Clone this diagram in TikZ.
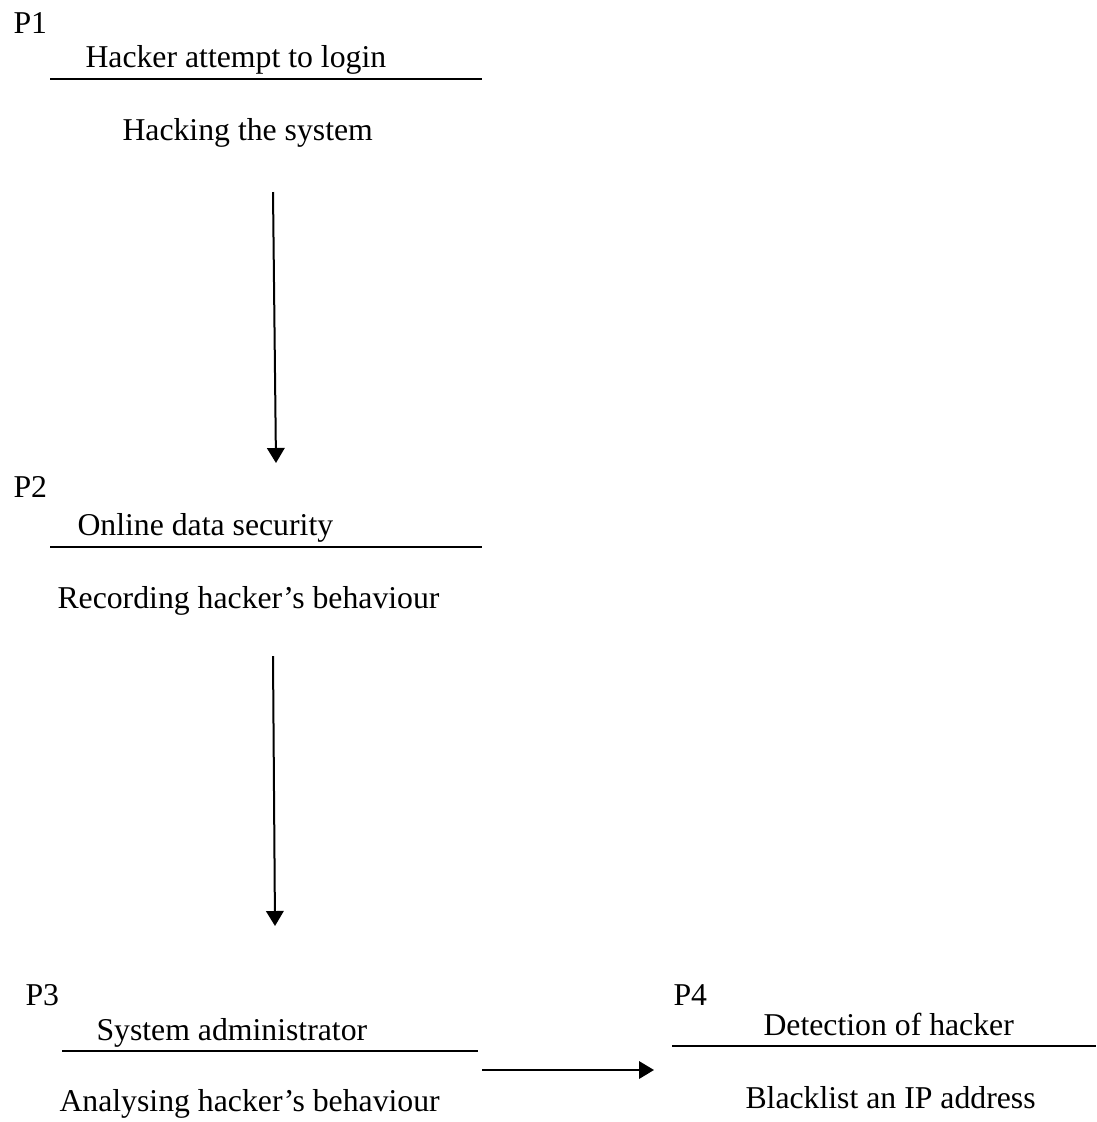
\documentclass[tikz,border=0pt]{standalone}
\usepackage{fontspec}
\setmainfont{Liberation Serif}
\usetikzlibrary{arrows.meta}

\begin{document}
\begin{tikzpicture}[x=0.4pt,y=-0.4pt,
    txt/.style={anchor=base west,inner sep=0pt,font=\fontsize{12.7}{15}\selectfont},
    rule/.style={line width=1.15pt},
    flow/.style={line width=0.8pt,-{Triangle[width=7pt,length=6pt]}}]
    \useasboundingbox (0,0) rectangle (1096,1122);

    % P1
    \node[txt] (p1) at (13,33) {P1};
    \node[txt] (t1) at (85,67) {Hacker attempt to login};
    \draw[rule] (50,79) -- (482,79);
    \node[txt] (d1) at (122,140) {Hacking the system};

    % P2
    \node[txt] (p2) at (13,497) {P2};
    \node[txt] (t2) at (77,535) {Online data security};
    \draw[rule] (50,547) -- (482,547);
    \node[txt] (d2) at (57,608) {Recording hacker’s behaviour};

    % P3
    \node[txt] (p3) at (25,1005) {P3};
    \node[txt] (t3) at (96,1040) {System administrator};
    \draw[rule] (62,1051) -- (478,1051);
    \node[txt] (d3) at (59,1111) {Analysing hacker’s behaviour};

    % P4
    \node[txt] (p4) at (673,1005) {P4};
    \node[txt] (t4) at (763,1035) {Detection of hacker};
    \draw[rule] (672,1046) -- (1096,1046);
    \node[txt] (d4) at (745,1108) {Blacklist an IP address};

    % arrows
    \coordinate (a1s) at (273,192);
    \coordinate (a1e) at (276,463);
    \coordinate (a2s) at (273,656);
    \coordinate (a2e) at (275,926);
    \coordinate (a3s) at (482,1070);
    \coordinate (a3e) at (654,1070);
    \draw[flow] (a1s) -- (a1e);
    \draw[flow] (a2s) -- (a2e);
    \draw[flow] (a3s) -- (a3e);
\end{tikzpicture}
\end{document}
